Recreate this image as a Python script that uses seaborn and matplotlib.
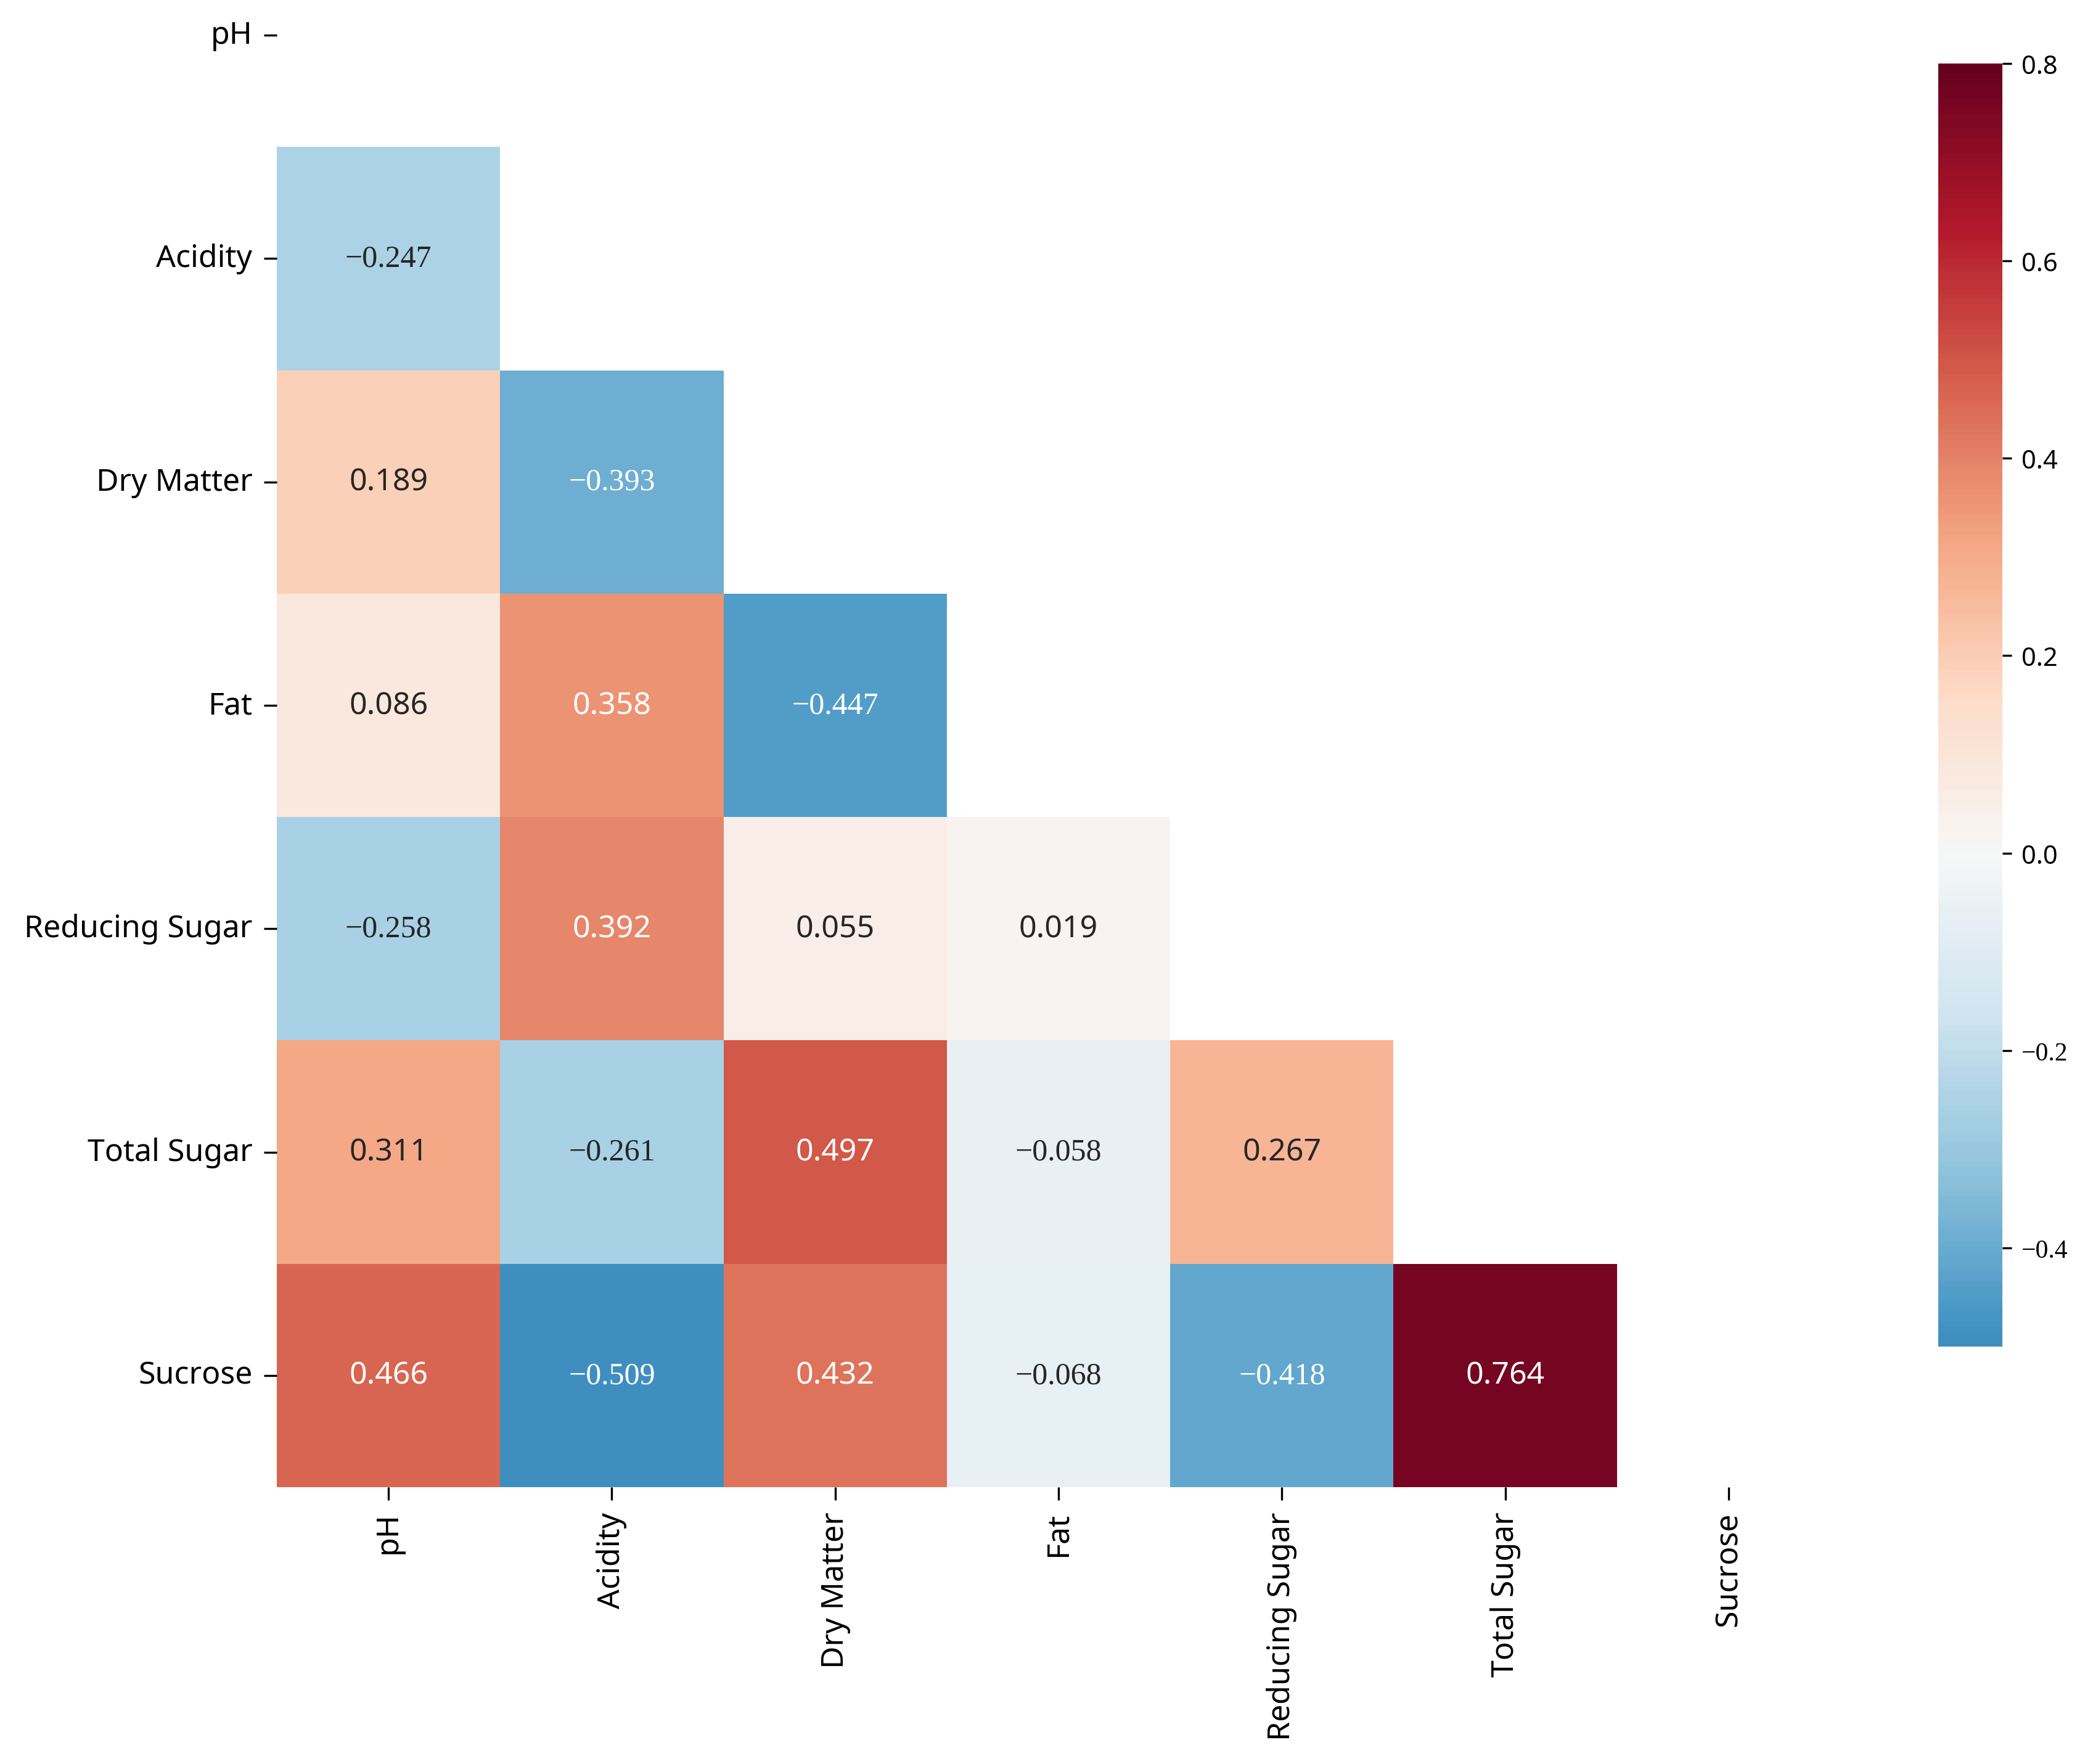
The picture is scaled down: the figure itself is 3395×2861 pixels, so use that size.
import numpy as np
import pandas as pd
import matplotlib
matplotlib.use("Agg")
import matplotlib.pyplot as plt
import seaborn as sns

variables = ["pH", "Acidity", "Dry Matter", "Fat", "Reducing Sugar", "Total Sugar", "Sucrose"]

# lower-triangle correlation values (row variable vs earlier columns)
r_ph = []
r_acidity = [-0.247]
r_dry_matter = [0.189, -0.393]
r_fat = [0.086, 0.358, -0.447]
r_reducing_sugar = [-0.258, 0.392, 0.055, 0.019]
r_total_sugar = [0.311, -0.261, 0.497, -0.058, 0.267]
r_sucrose = [0.466, -0.509, 0.432, -0.068, -0.418, 0.764]

cbar_ticks = [-0.4, -0.2, 0.0, 0.2, 0.4, 0.6, 0.8]

lower_rows = [r_ph, r_acidity, r_dry_matter, r_fat, r_reducing_sugar, r_total_sugar, r_sucrose]
n = len(variables)
corr = np.eye(n)
for i, row in enumerate(lower_rows):
    for j, v in enumerate(row):
        corr[i, j] = v
        corr[j, i] = v
df = pd.DataFrame(corr, index=variables, columns=variables)
mask = np.triu(np.ones_like(corr, dtype=bool))

plt.rcParams["font.family"] = ["Noto Sans", "DejaVu Sans"]
serif = ["Liberation Serif", "DejaVu Serif"]

fig = plt.figure(figsize=(3395 / 300, 2862 / 300), dpi=300)
ax = fig.add_axes([0.13225, 0.15688, 0.74698, 0.8861])
cax = fig.add_axes([0.92607, 0.23655, 0.03063, 0.72711])

sns.heatmap(df, mask=mask, cmap="RdBu_r", vmin=-0.5, vmax=0.8, center=0,
            annot=True, fmt=".3f", annot_kws={"size": 12},
            ax=ax, cbar_ax=cax, cbar_kws={"ticks": cbar_ticks})

for t in ax.texts:
    s = t.get_text()
    if s.startswith("-"):
        t.set_text("\u2212" + s[1:])
        t.set_fontfamily(serif)

ax.set_xticklabels(variables, rotation=90, fontsize=12)
ax.set_yticklabels(variables, rotation=0, fontsize=12)
ax.tick_params(length=5, width=0.8, pad=4.5, color="black", labelcolor="black")

cax.set_yticks(cbar_ticks)
cb_labels = [f"{v:.1f}".replace("-", "\u2212") for v in cbar_ticks]
cax.set_yticklabels(cb_labels, fontsize=10)
for lab in cax.get_yticklabels():
    if lab.get_text().startswith("\u2212"):
        lab.set_fontfamily(serif)
cax.tick_params(length=3.5, width=0.8, pad=4)

fig.savefig("out.png", dpi=300)
